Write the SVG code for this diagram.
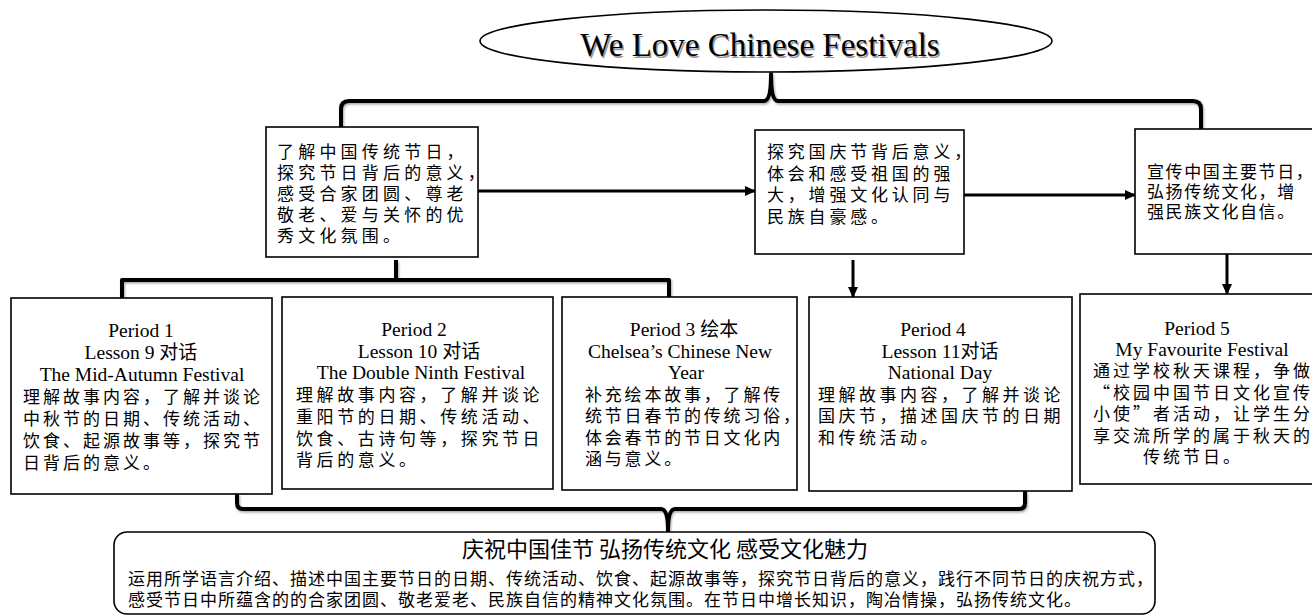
<svg xmlns="http://www.w3.org/2000/svg" width="1312" height="616" viewBox="0 0 1312 616">
<defs>
  <marker id="ah" markerUnits="userSpaceOnUse" markerWidth="11" markerHeight="10" refX="10" refY="5" orient="auto">
    <path d="M0,0 L11,5 L0,10 z" fill="#000"/>
  </marker>
  <filter id="sh" x="-5%" y="-5%" width="110%" height="120%">
    <feDropShadow dx="1" dy="1.5" stdDeviation="1" flood-color="#000" flood-opacity="0.35"/>
  </filter>
</defs>
<style>
  .box { fill: #fff; stroke: #000; stroke-width: 1.6; }
  .brace { fill: none; stroke: #000; stroke-width: 4; stroke-linejoin: round; }
  .arr { fill: none; stroke: #000; stroke-width: 3; }
  .en { font-family: "Liberation Serif", serif; font-size: 19.5px; fill: #000; text-anchor: middle; }
  .cjkh { font-family: "Noto Sans CJK SC", sans-serif; font-size: 19px; }
  .cj { font-family: "Noto Sans CJK SC", sans-serif; font-size: 17px; fill: #000; }
  .ctr { text-anchor: middle; }
  .title { font-family: "Liberation Serif", serif; font-size: 33px; text-anchor: middle; }
</style>
<rect width="1312" height="616" fill="#fff"/>

<g id="connectors">
  <path class="brace" filter="url(#sh)" d="M341,128 L341,109 Q341,101 349,101 L764,101 Q771,101 771,74 Q771,101 778,101 L1193,101 Q1201,101 1201,109 L1201,129"/>
  <path class="brace" filter="url(#sh)" d="M396,260 L396,280 M122,298 L122,280 L669,280 L669,297"/>
  <path class="brace" filter="url(#sh)" d="M237,494 L237,503 Q237,509 243,509 L661,509 Q668,509 668,531 Q668,509 675,509 L1019,509 Q1025,509 1025,503 L1025,491"/>
  <line class="arr" x1="478" y1="191" x2="755" y2="191" marker-end="url(#ah)"/>
  <line class="arr" x1="964" y1="195" x2="1135" y2="195" marker-end="url(#ah)"/>
  <line class="arr" x1="853" y1="260" x2="853" y2="297" marker-end="url(#ah)"/>
  <line class="arr" x1="1227" y1="254" x2="1227" y2="294" marker-end="url(#ah)"/>
</g>

<g id="title">
  <ellipse cx="766" cy="41" rx="286" ry="31" fill="#fff" stroke="#000" stroke-width="1.6"/>
  <text class="title" x="761.5" y="57.5" fill="#9a9a9a">We Love Chinese Festivals</text>
  <text class="title" x="760" y="56" fill="#000">We Love Chinese Festivals</text>
</g>

<g id="goalA">
  <rect class="box" x="266" y="127" width="212" height="130"/>
  <g class="cj" style="letter-spacing:4.2px">
    <text x="277" y="158">了解中国传统节日，</text>
    <text x="277" y="179">探究节日背后的意义，</text>
    <text x="277" y="200">感受合家团圆、尊老</text>
    <text x="277" y="221">敬老、爱与关怀的优</text>
    <text x="277" y="242">秀文化氛围。</text>
  </g>
</g>

<g id="goalB">
  <rect class="box" x="755" y="130" width="209" height="124"/>
  <g class="cj" style="letter-spacing:3.8px">
    <text x="767" y="158">探究国庆节背后意义，</text>
    <text x="767" y="179.5">体会和感受祖国的强</text>
    <text x="767" y="201">大，增强文化认同与</text>
    <text x="767" y="222.5">民族自豪感。</text>
  </g>
</g>

<g id="goalC">
  <rect class="box" x="1135" y="129" width="190" height="125"/>
  <g class="cj" style="letter-spacing:1.6px">
    <text x="1147" y="178">宣传中国主要节日，</text>
    <text x="1147" y="198">弘扬传统文化，增</text>
    <text x="1147" y="218">强民族文化自信。</text>
  </g>
</g>

<g id="period1">
  <rect class="box" x="11" y="298" width="261" height="196"/>
  <text class="en" x="141" y="337">Period 1</text>
  <text class="en" x="141" y="359">Lesson 9 <tspan class="cjkh">对话</tspan></text>
  <text class="en" x="142" y="381">The Mid-Autumn Festival</text>
  <g class="cj" style="letter-spacing:3px">
    <text x="23" y="403">理解故事内容，了解并谈论</text>
    <text x="23" y="425">中秋节的日期、传统活动、</text>
    <text x="23" y="447">饮食、起源故事等，探究节</text>
    <text x="23" y="469">日背后的意义。</text>
  </g>
</g>

<g id="period2">
  <rect class="box" x="282" y="297" width="271" height="192"/>
  <text class="en" x="414" y="336">Period 2</text>
  <text class="en" x="419" y="358">Lesson 10 <tspan class="cjkh">对话</tspan></text>
  <text class="en" x="421" y="379">The Double Ninth Festival</text>
  <g class="cj" style="letter-spacing:3.6px">
    <text x="296" y="401">理解故事内容，了解并谈论</text>
    <text x="296" y="423">重阳节的日期、传统活动、</text>
    <text x="296" y="444.5">饮食、古诗句等，探究节日</text>
    <text x="296" y="466">背后的意义。</text>
  </g>
</g>

<g id="period3">
  <rect class="box" x="562" y="297" width="235" height="193"/>
  <text class="en" x="684" y="336">Period 3 <tspan class="cjkh">绘本</tspan></text>
  <text class="en" x="680" y="358">Chelsea’s Chinese New</text>
  <text class="en" x="686" y="379">Year</text>
  <g class="cj" style="letter-spacing:2.8px">
    <text x="585" y="401">补充绘本故事，了解传</text>
    <text x="585" y="422">统节日春节的传统习俗，</text>
    <text x="585" y="443.5">体会春节的节日文化内</text>
    <text x="585" y="465">涵与意义。</text>
  </g>
</g>

<g id="period4">
  <rect class="box" x="809" y="297" width="263" height="194"/>
  <text class="en" x="933" y="336">Period 4</text>
  <text class="en" x="940" y="358">Lesson 11<tspan class="cjkh">对话</tspan></text>
  <text class="en" x="940" y="379">National Day</text>
  <g class="cj" style="letter-spacing:3.5px">
    <text x="818" y="401">理解故事内容，了解并谈论</text>
    <text x="818" y="422">国庆节，描述国庆节的日期</text>
    <text x="818" y="443.5">和传统活动。</text>
  </g>
</g>

<g id="period5">
  <rect class="box" x="1080" y="294" width="245" height="190"/>
  <text class="en" x="1197" y="334.5">Period 5</text>
  <text class="en" x="1202" y="356">My Favourite Festival</text>
  <g class="cj ctr" style="letter-spacing:3px">
    <text x="1203" y="377">通过学校秋天课程，争做</text>
    <text x="1203" y="398.5">“校园中国节日文化宣传</text>
    <text x="1203" y="420">小使”者活动，让学生分</text>
    <text x="1203" y="441.5">享交流所学的属于秋天的</text>
    <text x="1193" y="463">传统节日。</text>
  </g>
</g>

<g id="summary">
  <rect x="114" y="532" width="1041" height="82" rx="13" ry="13" fill="#fff" stroke="#000" stroke-width="1.6"/>
  <text x="665" y="557" style="font-family:'Noto Sans CJK SC',sans-serif;font-size:22px;text-anchor:middle">庆祝中国佳节 弘扬传统文化 感受文化魅力</text>
  <g class="cj" style="letter-spacing:1px">
    <text x="128" y="585">运用所学语言介绍、描述中国主要节日的日期、传统活动、饮食、起源故事等，探究节日背后的意义，践行不同节日的庆祝方式，</text>
    <text x="128" y="606">感受节日中所蕴含的的合家团圆、敬老爱老、民族自信的精神文化氛围。在节日中增长知识，陶冶情操，弘扬传统文化。</text>
  </g>
</g>
</svg>
